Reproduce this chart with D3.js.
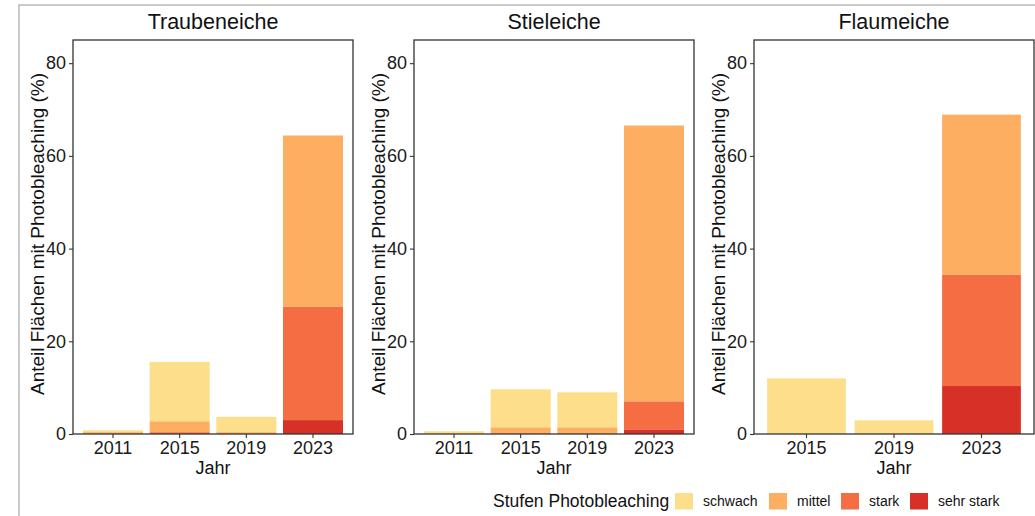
<!DOCTYPE html>
<html>
<head>
<meta charset="utf-8">
<script src="https://cdn.jsdelivr.net/npm/d3@7"></script>
<style>
  html, body { margin: 0; padding: 0; background: #fff; }
  svg { display: block; font-family: "Liberation Sans", Arial, sans-serif; }
</style>
</head>
<body>
<svg id="chart" width="1035" height="516"></svg>
<script>
// ---- data ----
const levels = ["schwach", "mittel", "stark", "sehr stark"];
const levelColors = ["#FDDE8A", "#FDAE61", "#F46D43", "#D73027"];
const yTicks = [0, 20, 40, 60, 80];

const traubYears = ["2011", "2015", "2019", "2023"];
const traubSchwach = [0.4, 12.8, 3.3, 0];
const traubMittel = [0.4, 2.35, 0.4, 36.9];
const traubStark = [0, 0.4, 0, 24.5];
const traubSehrStark = [0, 0, 0, 3.0];

const stielYears = ["2011", "2015", "2019", "2023"];
const stielSchwach = [0.6, 8.2, 7.55, 0];
const stielMittel = [0, 1.45, 1.45, 59.5];
const stielStark = [0, 0, 0, 6.05];
const stielSehrStark = [0, 0, 0, 1.0];

const flaumYears = ["2015", "2019", "2023"];
const flaumSchwach = [12.0, 2.95, 0];
const flaumMittel = [0, 0, 34.5];
const flaumStark = [0, 0, 24.05];
const flaumSehrStark = [0, 0, 10.35];

const panels = [
  { title: "Traubeneiche", years: traubYears, series: [traubSchwach, traubMittel, traubStark, traubSehrStark], x0: 73, x1: 353 },
  { title: "Stieleiche", years: stielYears, series: [stielSchwach, stielMittel, stielStark, stielSehrStark], x0: 414, x1: 694 },
  { title: "Flaumeiche", years: flaumYears, series: [flaumSchwach, flaumMittel, flaumStark, flaumSehrStark], x0: 754, x1: 1034 }
];

// ---- layout ----
const svg = d3.select("#chart");
const yTop = 40, yBottom = 434;
const y = d3.scaleLinear().domain([0, 85]).range([yBottom, yTop]);
const color = d3.scaleOrdinal().domain(levels).range(levelColors);

// outer grey border
svg.append("rect").attr("x", 19).attr("y", 5).attr("width", 1040).attr("height", 530)
  .attr("fill", "none").attr("stroke", "#bdbdbd").attr("stroke-width", 1.6);

panels.forEach(p => {
  const g = svg.append("g");
  const x = d3.scaleBand().domain(p.years).range([p.x0, p.x1]).paddingInner(0.1).paddingOuter(0.15);

  // build stacked data: sehr stark at bottom, schwach on top
  const rows = p.years.map((yr, i) => {
    const r = { year: yr };
    levels.forEach((lv, k) => { r[lv] = p.series[k][i]; });
    return r;
  });
  const stackOrder = levels.slice().reverse();
  const stacked = d3.stack().keys(stackOrder)(rows);

  g.selectAll("g.layer").data(stacked).join("g")
    .attr("class", "layer")
    .attr("fill", d => color(d.key))
    .selectAll("rect").data(d => d).join("rect")
    .attr("x", d => x(d.data.year))
    .attr("width", x.bandwidth())
    .attr("y", d => y(d[1]))
    .attr("height", d => Math.max(0, y(d[0]) - y(d[1])));

  // frame
  g.append("rect").attr("x", p.x0).attr("y", yTop).attr("width", p.x1 - p.x0).attr("height", yBottom - yTop)
    .attr("fill", "none").attr("stroke", "#333").attr("stroke-width", 1.3);

  // y axis
  const ya = g.append("g").attr("transform", `translate(${p.x0},0)`)
    .call(d3.axisLeft(y).tickValues(yTicks).tickSize(4).tickPadding(3));
  ya.select(".domain").remove();
  ya.selectAll(".tick line").attr("stroke", "#333").attr("stroke-width", 1.1);
  ya.selectAll(".tick text").attr("font-size", 18).attr("fill", "#1a1a1a")
    .attr("font-family", "Liberation Sans, Arial, sans-serif");

  // x axis
  const xa = g.append("g").attr("transform", `translate(0,${yBottom})`)
    .call(d3.axisBottom(x).tickSize(4).tickPadding(3));
  xa.select(".domain").remove();
  xa.selectAll(".tick line").attr("stroke", "#333").attr("stroke-width", 1.1);
  xa.selectAll(".tick text").attr("font-size", 18).attr("fill", "#1a1a1a")
    .attr("font-family", "Liberation Sans, Arial, sans-serif");

  // titles
  g.append("text").attr("x", (p.x0 + p.x1) / 2).attr("y", 29).attr("text-anchor", "middle")
    .attr("font-size", 21.5).attr("fill", "#111").text(p.title);
  g.append("text").attr("x", (p.x0 + p.x1) / 2).attr("y", 474).attr("text-anchor", "middle")
    .attr("font-size", 18).attr("fill", "#111").text("Jahr");
  g.append("text")
    .attr("transform", `translate(${p.x0 - 29},${(yTop + yBottom) / 2 - 3}) rotate(-90)`)
    .attr("text-anchor", "middle").attr("font-size", 19).attr("fill", "#111")
    .text("Anteil Flächen mit Photobleaching (%)");
});

// legend
const lg = svg.append("g");
lg.append("text").attr("x", 493).attr("y", 507).attr("font-size", 17.5).attr("fill", "#111")
  .text("Stufen Photobleaching");
const legendX = [675, 769, 841, 910];
levels.forEach((lv, i) => {
  lg.append("rect").attr("x", legendX[i]).attr("y", 493).attr("width", 18).attr("height", 16.5)
    .attr("fill", color(lv));
  lg.append("text").attr("x", legendX[i] + 28).attr("y", 506).attr("font-size", 14).attr("fill", "#111")
    .text(lv);
});
</script>
</body>
</html>
